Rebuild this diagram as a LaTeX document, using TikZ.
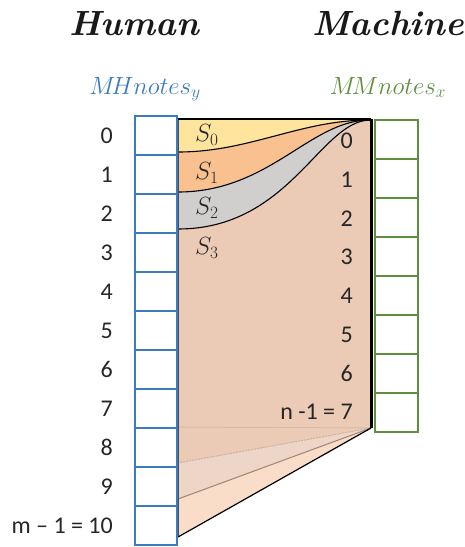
\documentclass[tikz,border=0pt]{standalone}
\usepackage{fontspec}
\newfontfamily\numfont{Carlito}
\definecolor{peach}{HTML}{EBCBB6}
\definecolor{bandA}{HTML}{EDD6C7}
\definecolor{bandB}{HTML}{F9DDC8}
\definecolor{syellow}{HTML}{FEE49C}
\definecolor{sorange}{HTML}{F8C18F}
\definecolor{sgrey}{HTML}{D0CFCE}
\definecolor{hblue}{HTML}{3B7BC0}
\definecolor{mgreen}{HTML}{5E8F3E}
\definecolor{fanA}{HTML}{D6BBA8}
\definecolor{fanB}{HTML}{C8B2A2}
\definecolor{fanC}{HTML}{9E8573}
\begin{document}
\begin{tikzpicture}[x=1pt,y=-1pt,
  hcell/.style={draw=hblue, line width=1.6pt, minimum width=42pt, minimum height=39pt, inner sep=0pt, outer sep=0pt},
  mcell/.style={draw=mgreen, line width=1.6pt, minimum width=43pt, minimum height=39pt, inner sep=0pt, outer sep=0pt},
  num/.style={font=\numfont\fontsize{24}{28}\selectfont, inner sep=0pt, anchor=east, text=black!85},
  slab/.style={font=\fontsize{24}{28}\selectfont, inner sep=0pt, anchor=west, text=black!85},
  ttl/.style={font=\fontsize{35}{40}\selectfont\bfseries\itshape, inner sep=0pt, anchor=base, text=black!90},
  hdr/.style={font=\fontsize{24}{28}\selectfont, inner sep=0pt, anchor=base},
  curve/.style={draw=black, line width=1.1pt},
  edge/.style={draw=black, line width=1.2pt}]
\useasboundingbox (0,0) rectangle (464,547);

% shape corners
\coordinate (TL) at (178,119);
\coordinate (TR) at (371,119);
\coordinate (BR) at (371,428);
\coordinate (BL) at (178,537);
\coordinate (P) at (370,120);
\coordinate (C0) at (178,152);
\coordinate (C1) at (178,192);
\coordinate (C2) at (178,229);
\coordinate (F1) at (178,427);
\coordinate (F2) at (178,463);
\coordinate (F3) at (178,499);

% fills
\fill[peach] (TL) -- (TR) -- (BR) -- (BL) -- cycle;
\fill[bandA] (BR) -- (F2) -- (F3) -- cycle;
\fill[bandB] (BR) -- (F3) -- (BL) -- cycle;
\fill[sgrey] (TL) -- (P) .. controls (320,121) and (290,229) .. (C2) -- cycle;
\fill[sorange] (TL) -- (P) .. controls (310,120) and (270,192) .. (C1) -- cycle;
\fill[syellow] (TL) -- (P) .. controls (300,120) and (250,152) .. (C0) -- cycle;

% curves
\draw[curve] (P) .. controls (320,121) and (290,229) .. (C2);
\draw[curve] (P) .. controls (310,120) and (270,192) .. (C1);
\draw[curve] (P) .. controls (300,120) and (250,152) .. (C0);

% fan lines
\draw[fanA, line width=1pt] (BR) -- (F1);
\draw[fanB, line width=1pt, dash pattern=on 2pt off 1pt] (BR) -- (F2);
\draw[fanC, line width=1pt] (BR) -- (F3);

% outline
\draw[black!70, line width=1pt] (TL) -- (BL);
\draw[edge] (TL) -- (TR);
\draw[edge] (BR) -- (BL);
\draw[black, line width=3pt] (TR) -- (BR);

% cells
\foreach \i in {0,...,10} {
  \node[hcell] (h\i) at (156,{135.5+39*\i}) {};
}
\foreach \i in {0,...,7} {
  \node[mcell] (m\i) at (396.5,{139.5+39*\i}) {};
}

% left numbers
\foreach \i in {0,...,9} {
  \node[num] (ln\i) at (113,{135.5+39*\i}) {\i};
}
\node[num] (ln10) at (113,525.5) {m – 1 = 10};

% right numbers
\foreach \i in {0,...,6} {
  \node[num] (rn\i) at (353,{141+38.7*\i}) {\i};
}
\node[num] (rn7) at (353,412) {n -1 = 7};

% S labels
\node[slab] (s0) at (195,135) {$S_0$};
\node[slab] (s1) at (195,173) {$S_1$};
\node[slab] (s2) at (195,208) {$S_2$};
\node[slab] (s3) at (195,248) {$S_3$};

% titles
\node[ttl] (human) at (134,35) {Human};
\node[ttl] (machine) at (388,35) {Machine};
\node[hdr, text=hblue] (mh) at (145,94) {$M\!Hnotes_y$};
\node[hdr, text=mgreen] (mm) at (388,94) {$M\!Mnotes_x$};
\end{tikzpicture}
\end{document}
